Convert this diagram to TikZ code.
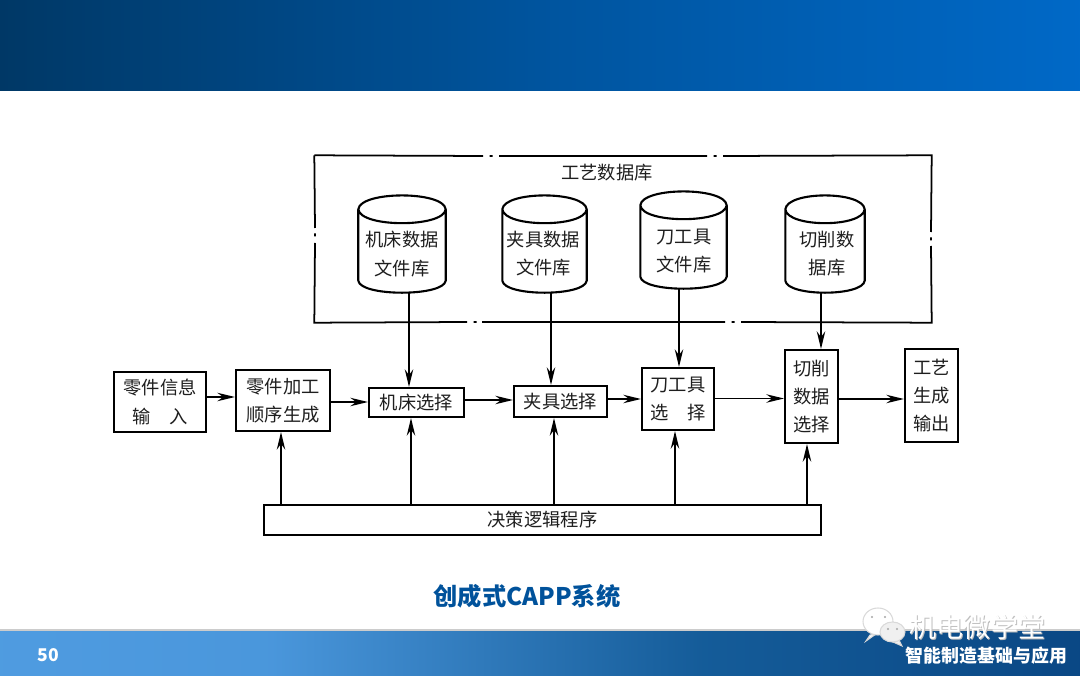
\documentclass[tikz,border=0pt]{standalone}
\usepackage{fontspec}
\setmainfont{Noto Sans CJK SC}
\usetikzlibrary{arrows.meta, positioning, calc}
\definecolor{mytext}{RGB}{30,30,30}
\definecolor{mytitle}{RGB}{0,82,155}
\pgfdeclarehorizontalshading{topband}{100bp}{rgb(0bp)=(0,0.22,0.40); rgb(25bp)=(0,0.22,0.40); rgb(50bp)=(0,0.33,0.62); rgb(75bp)=(0,0.41,0.78); rgb(100bp)=(0,0.41,0.78)}
\pgfdeclarehorizontalshading{footband}{100bp}{rgb(0bp)=(0.31,0.61,0.88); rgb(25bp)=(0.31,0.61,0.88); rgb(37.5bp)=(0.29,0.59,0.86); rgb(57.5bp)=(0.08,0.36,0.60); rgb(75bp)=(0.04,0.28,0.52); rgb(100bp)=(0.04,0.28,0.52)}
\tikzset{
    block/.style={draw=black, line width=0.6pt, fill=white, align=center, inner sep=0pt, text=mytext,
        font=\fontsize{5.2}{8}\selectfont},
    dbcyl/.style={inner sep=0pt, minimum height=0.96cm},
    dbtext/.style={align=center, inner sep=0pt, text=mytext, font=\fontsize{5.2}{8}\selectfont},
    flowline/.style={line width=0.5pt, -{Stealth[length=5pt,width=2.4pt]}},
    dbline/.style={line width=0.5pt, black},
    drumline/.style={line width=0.6pt, black, line join=round}
}
% outline of a database drum round a named node
\newcommand{\drawdrum}[1]{
    \draw[drumline] ($(#1.north west)+(0,-0.14)$)
        .. controls ($(#1.north west)+(0.02,0.045)$) and ($(#1.north east)+(-0.02,0.045)$) .. ($(#1.north east)+(0,-0.14)$)
        .. controls ($(#1.north east)+(-0.02,-0.325)$) and ($(#1.north west)+(0.02,-0.325)$) .. ($(#1.north west)+(0,-0.14)$)
        -- ($(#1.south west)+(0,0.12)$)
        .. controls ($(#1.south west)+(0.02,-0.04)$) and ($(#1.south east)+(-0.02,-0.04)$) .. ($(#1.south east)+(0,0.12)$)
        -- ($(#1.north east)+(0,-0.14)$);
}
\begin{document}
\begin{tikzpicture}
    \useasboundingbox (0,0) rectangle (10.8,6.75);
    % Slide bands
    \shade[shading=topband] (0,5.84) rectangle (10.8,6.75);
    \shade[shading=footband] (0,0) rectangle (10.8,0.45);
    \draw[line width=0.3pt, gray!40] (0,0.45) -- (10.8,0.45);

    % Database frame
    \node[minimum width=6.16cm, minimum height=1.66cm, inner sep=0pt] (frame) at (6.23,4.36) {};
    \draw[dbline] (frame.north west) -- (4.83,5.19) (4.895,5.19) -- (4.925,5.19) (4.99,5.19) -- (7.07,5.19)
        (7.135,5.19) -- (7.165,5.19) (7.23,5.19) -- (frame.north east)
        -- (9.31,4.43) (9.31,4.375) -- (9.31,4.345) (9.31,4.29) -- (frame.south east)
        -- (7.41,3.53) (7.345,3.53) -- (7.315,3.53) (7.25,3.53) -- (4.82,3.53)
        (4.765,3.53) -- (4.735,3.53) (4.67,3.53) -- (frame.south west)
        -- (3.15,4.32) (3.15,4.385) -- (3.15,4.415) (3.15,4.47) -- (frame.north west);
    \node[dbtext] (framelabel) at (6.07,5.02) {工艺数据库};

    % Database drums
    \node[dbcyl, minimum width=0.86cm] (dbmach) at (4.02,4.31) {};
    \drawdrum{dbmach}
    \node[dbtext] (dbmachtext) at (4.02,4.21) {机床数据\\文件库};
    \node[dbcyl, minimum width=0.83cm] (dbfixt) at (5.445,4.31) {};
    \drawdrum{dbfixt}
    \node[dbtext] (dbfixttext) at (5.435,4.21) {夹具数据\\文件库};
    \node[dbcyl, minimum width=0.85cm] (dbtool) at (6.835,4.35) {};
    \drawdrum{dbtool}
    \node[dbtext] (dbtooltext) at (6.84,4.24) {刀工具\\文件库};
    \node[dbcyl, minimum width=0.78cm] (dbcut) at (8.25,4.31) {};
    \drawdrum{dbcut}
    \node[dbtext] (dbcuttext) at (8.27,4.21) {切削数\\据库};

    % Process blocks
    \node[block, minimum width=0.92cm, minimum height=0.60cm] (info) at (1.60,2.73) {零件信息\\输\quad 入};
    \node[block, minimum width=0.94cm, minimum height=0.61cm] (seq) at (2.83,2.745) {零件加工\\顺序生成};
    \node[block, minimum width=0.95cm, minimum height=0.29cm] (mach) at (4.165,2.725) {机床选择};
    \node[block, minimum width=0.93cm, minimum height=0.31cm] (fixt) at (5.605,2.735) {夹具选择};
    \node[block, minimum width=0.72cm, minimum height=0.62cm] (tool) at (6.78,2.76) {刀工具\\选\quad 择};
    \node[block, minimum width=0.53cm, minimum height=0.93cm] (cut) at (8.115,2.785) {切削\\数据\\选择};
    \node[block, minimum width=0.53cm, minimum height=0.93cm] (out) at (9.315,2.795) {工艺\\生成\\输出};
    \node[block, minimum width=5.57cm, minimum height=0.30cm] (logic) at (5.425,1.55) {决策逻辑程序};

    % Main flow
    \draw[flowline] (info.east |- 0,2.78) -- (seq.west |- 0,2.78);
    \draw[flowline] (seq.east |- 0,2.73) -- (mach.west |- 0,2.73);
    \draw[flowline] (mach.east |- 0,2.75) -- (fixt.west |- 0,2.75);
    \draw[flowline] (fixt.east |- 0,2.76) -- (tool.west |- 0,2.76);
    \draw[flowline] (tool.east |- 0,2.765) -- (cut.west |- 0,2.765);
    \draw[flowline] (cut.east |- 0,2.76) -- (out.west |- 0,2.76);

    % Database to selection
    \draw[flowline] (dbmach.south -| 4.09,0) -- (mach.north -| 4.09,0);
    \draw[flowline] (dbfixt.south -| 5.51,0) -- (fixt.north -| 5.51,0);
    \draw[flowline] (dbtool.south -| 6.79,0) -- (tool.north -| 6.79,0);
    \draw[flowline] (dbcut.south -| 8.21,0) -- (cut.north -| 8.21,0);

    % Decision logic to blocks
    \draw[flowline] (logic.north -| 2.81,0) -- (seq.south -| 2.81,0);
    \draw[flowline] (logic.north -| 4.11,0) -- (mach.south -| 4.11,0);
    \draw[flowline] (logic.north -| 5.54,0) -- (fixt.south -| 5.54,0);
    \draw[flowline] (logic.north -| 6.75,0) -- (tool.south -| 6.75,0);
    \draw[flowline] (logic.north -| 8.07,0) -- (cut.south -| 8.07,0);

    % Caption and footer
    \node[text=mytitle, font=\fontsize{6.9}{8}\selectfont\bfseries] (caption) at (5.27,0.79) {创成式CAPP系统};
    \node[text=white, font=\fontsize{5}{6}\selectfont\bfseries] (pagenum) at (0.485,0.20) {50};
    \node[text=white, font=\fontsize{5.1}{6}\selectfont\bfseries, anchor=east, inner sep=0pt] (course) at (10.68,0.195) {智能制造基础与应用};

    % Watermark
    \fill[white, draw=gray!30, line width=0.3pt] (8.70,0.40) -- (8.66,0.34) -- (8.76,0.41) -- cycle;
    \fill[white, draw=gray!30, line width=0.3pt] (8.78,0.535) ellipse (0.15 and 0.135);
    \fill[gray!12, draw=gray!30, line width=0.3pt] (8.99,0.35) -- (9.02,0.29) -- (8.93,0.33) -- cycle;
    \fill[gray!12, draw=gray!30, line width=0.3pt] (8.925,0.43) ellipse (0.125 and 0.10);
    \fill[gray!70] (8.72,0.58) circle (0.012) (8.85,0.58) circle (0.012) (8.88,0.46) circle (0.012) (8.97,0.46) circle (0.012);
    \node[text=gray!50, font=\fontsize{7.7}{8}\selectfont] (markshadow) at (9.785,0.47) {机电微学堂};
    \node[text=white, font=\fontsize{7.7}{8}\selectfont] (mark) at (9.775,0.48) {机电微学堂};
\end{tikzpicture}
\end{document}
